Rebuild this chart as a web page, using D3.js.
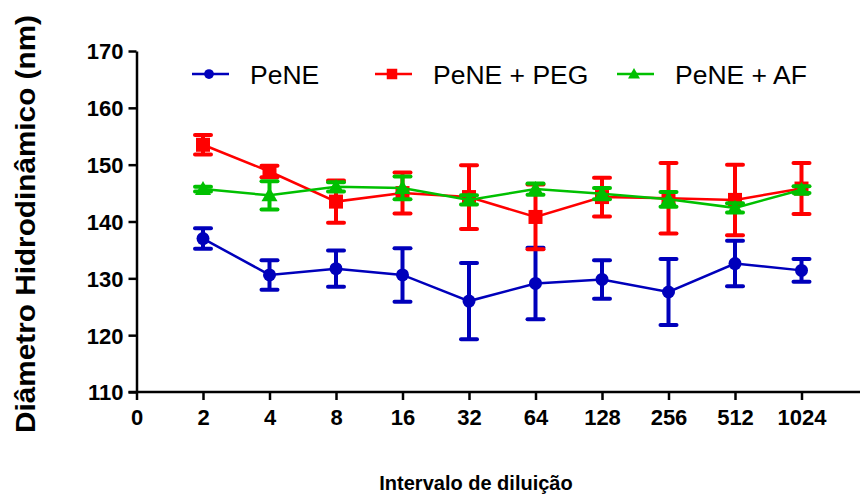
<!DOCTYPE html>
<html>
<head>
<meta charset="utf-8">
<script src="https://cdn.jsdelivr.net/npm/d3@7"></script>
<style>
  body { margin: 0; background: #fff; }
  svg { display: block; font-family: "Liberation Sans", Arial, sans-serif; }
</style>
</head>
<body>
<svg id="chart" width="860" height="494"></svg>
<script>
  const categories = ["0", "2", "4", "8", "16", "32", "64", "128", "256", "512", "1024"];
  const yTicks = [110, 120, 130, 140, 150, 160, 170];

  const seriesNames = ["PeNE", "PeNE + PEG", "PeNE + AF"];
  const seriesColors = ["#0000bb", "#ff0000", "#00c000"];
  const seriesShapes = ["circle", "square", "triangle"];

  // values for dilutions 2..1024
  const peneMean = [137.0, 130.6, 131.7, 130.6, 126.0, 129.1, 129.8, 127.6, 132.6, 131.4];
  const peneErr  = [1.8, 2.6, 3.2, 4.7, 6.7, 6.3, 3.4, 5.8, 4.0, 2.0];
  const pegMean  = [153.5, 148.8, 143.5, 145.0, 144.3, 140.8, 144.3, 144.1, 143.8, 145.8];
  const pegErr   = [1.7, 1.0, 3.7, 3.6, 5.6, 5.7, 3.4, 6.2, 6.2, 4.5];
  const afMean   = [145.7, 144.6, 146.1, 145.9, 143.8, 145.7, 144.9, 143.9, 142.4, 145.6];
  const afErr    = [0.4, 2.5, 0.8, 2.0, 0.8, 1.0, 1.0, 1.3, 0.8, 0.6];

  const seriesData = [
    [peneMean, peneErr],
    [pegMean, pegErr],
    [afMean, afErr],
  ];

  const svg = d3.select("#chart");
  const x0 = 136.5, y0 = 392, yTop = 51;
  const step = 66.5;

  const x = d3.scaleLinear().domain([0, 10]).range([x0, x0 + 10 * step]);
  const y = d3.scaleLinear().domain([110, 170]).range([y0, yTop]);

  // y axis
  const yAxis = svg.append("g")
    .attr("transform", `translate(${x0},0)`)
    .call(d3.axisLeft(y).tickValues(yTicks).tickSize(8).tickPadding(5).tickSizeOuter(0));
  yAxis.select(".domain").attr("stroke", "#000").attr("stroke-width", 2.5);
  yAxis.selectAll(".tick line").attr("stroke", "#000").attr("stroke-width", 2.5);
  yAxis.selectAll(".tick text")
    .attr("fill", "#000").attr("dy", "0.36em")
    .style("font-size", "22px").style("font-weight", "bold");

  // x axis
  const xAxis = svg.append("g")
    .attr("transform", `translate(0,${y0})`)
    .call(d3.axisBottom(x).tickValues(d3.range(categories.length))
      .tickFormat((i) => categories[i]).tickSize(8).tickPadding(14).tickSizeOuter(0));
  xAxis.select(".domain").remove();
  xAxis.append("line")
    .attr("x1", x0 - 8).attr("x2", 860).attr("y1", 0).attr("y2", 0)
    .attr("stroke", "#000").attr("stroke-width", 2.5);
  xAxis.selectAll(".tick line").attr("stroke", "#000").attr("stroke-width", 2.5);
  xAxis.selectAll(".tick text")
    .attr("fill", "#000").attr("dy", "0.5em")
    .style("font-size", "22px").style("font-weight", "bold");

  // axis titles
  svg.append("text")
    .attr("transform", `translate(35,224) rotate(-90)`)
    .attr("text-anchor", "middle")
    .attr("textLength", 418).attr("lengthAdjust", "spacingAndGlyphs")
    .style("font-size", "28px").style("font-weight", "bold")
    .text("Diâmetro Hidrodinâmico (nm)");
  svg.append("text")
    .attr("x", 476).attr("y", 490)
    .attr("text-anchor", "middle")
    .style("font-size", "20px").style("font-weight", "bold")
    .text("Intervalo de diluição");

  function drawMarker(g, shape, cx, cy, color, k) {
    if (shape === "circle") {
      g.append("circle").attr("cx", cx).attr("cy", cy).attr("r", 6.5 * k).attr("fill", color);
    } else if (shape === "square") {
      const h = 7 * k;
      g.append("rect").attr("x", cx - h).attr("y", cy - h).attr("width", 2 * h).attr("height", 2 * h).attr("fill", color);
    } else {
      const h = 8 * k;
      g.append("path")
        .attr("d", `M${cx},${cy - h}L${cx + h},${cy + 0.75 * h}L${cx - h},${cy + 0.75 * h}Z`)
        .attr("fill", color);
    }
  }

  const line = d3.line().x((d) => x(d.i)).y((d) => y(d.v));

  seriesData.forEach(([means, errs], s) => {
    const color = seriesColors[s];
    const pts = means.map((v, k) => ({ i: k + 1, v, e: errs[k] }));
    const g = svg.append("g");
    g.append("path").datum(pts).attr("d", line)
      .attr("fill", "none").attr("stroke", color).attr("stroke-width", 2.5);
    pts.forEach((d) => {
      const cx = x(d.i);
      const top = y(d.v + d.e), bot = y(d.v - d.e);
      g.append("line").attr("x1", cx).attr("x2", cx).attr("y1", top).attr("y2", bot)
        .attr("stroke", color).attr("stroke-width", 4);
      [top, bot].forEach((yy) => {
        g.append("line").attr("x1", cx - 8).attr("x2", cx + 8).attr("y1", yy).attr("y2", yy)
          .attr("stroke", color).attr("stroke-width", 4).attr("stroke-linecap", "round");
      });
      drawMarker(g, seriesShapes[s], cx, y(d.v), color, 1);
    });
  });

  // legend
  const legendX = [192, 375, 617];
  const legendTextX = [250, 433, 675];
  const legendY = 74;
  seriesNames.forEach((name, s) => {
    const g = svg.append("g");
    g.append("line").attr("x1", legendX[s]).attr("x2", legendX[s] + 37)
      .attr("y1", legendY).attr("y2", legendY)
      .attr("stroke", seriesColors[s]).attr("stroke-width", 2.5);
    drawMarker(g, seriesShapes[s], legendX[s] + 17, legendY, seriesColors[s], 0.75);
    g.append("text").attr("x", legendTextX[s]).attr("y", legendY + 10)
      .style("font-size", "26.5px").attr("fill", "#000").text(name);
  });
</script>
</body>
</html>
